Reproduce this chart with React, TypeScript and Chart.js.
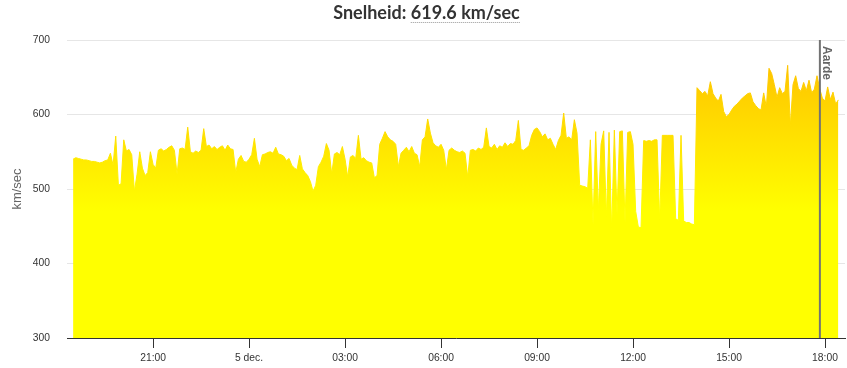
import React, { useEffect, useRef } from "react";
import { Chart, registerables } from "chart.js";

Chart.register(...registerables);

const TITLE_PREFIX = "Snelheid: ";
const TITLE_VALUE = "619.6 km/sec";
const Y_TITLE = "km/sec";

// Time grid: first sample 4 dec. 18:30, one sample every 5 minutes (hours since 4 dec. 00:00)
const START_HOUR = 18.5;
const STEP_MINUTES = 5;

// Solar wind speed (km/sec), one row per hour (12 samples of 5 min)
const SPEED: number[] = [
  540, 542, 541, 540, 539, 539, 538, 537, 537, 536, 535, 536,
  538, 539, 548, 532, 571, 505, 507, 566, 551, 553, 546, 497,
  520, 550, 528, 518, 522, 550, 533, 528, 552, 554, 551, 553,
  556, 558, 552, 520, 554, 555, 553, 583, 550, 548, 551, 549,
  552, 581, 557, 559, 554, 557, 553, 556, 558, 552, 559, 554,
  553, 522, 540, 545, 537, 536, 540, 546, 568, 540, 530, 546,
  547, 549, 550, 548, 556, 547, 546, 544, 538, 541, 532, 528,
  526, 545, 527, 522, 518, 510, 497, 505, 530, 536, 544, 561,
  552, 520, 547, 549, 546, 557, 540, 516, 543, 545, 541, 572,
  540, 542, 538, 536, 535, 515, 518, 560, 568, 577, 570, 566,
  564, 560, 530, 548, 552, 556, 550, 557, 548, 546, 530, 566,
  570, 594, 575, 562, 558, 556, 560, 552, 526, 552, 555, 552,
  550, 549, 551, 548, 516, 552, 553, 551, 555, 553, 556, 582,
  557, 555, 560, 553, 558, 556, 562, 557, 561, 560, 565, 592,
  553, 552, 555, 558, 572, 580, 582, 577, 570, 574, 566, 568,
  560, 553, 565, 572, 602, 568, 570, 566, 593, 575, 505, 504,
  503, 501, 566, 452, 577, 470, 560, 578, 462, 576, 444, 579,
  466, 577, 578, 455, 576, 577, 560, 470, 449, 448, 565, 564,
  565, 564, 566, 566, 458, 572, 572, 572, 572, 572, 460, 458,
  572, 457, 455, 455, 453, 452, 636, 632, 628, 631, 625, 644,
  628, 622, 618, 627, 604, 597, 600, 606, 611, 614, 618, 622,
  625, 628, 629, 617, 612, 608, 606, 629, 610, 662, 655, 640,
  623, 636, 628, 631, 666, 585, 640, 652, 635, 631, 643, 632,
  646, 629, 634, 652, 635, 622, 618, 637, 620, 630, 614, 619.6,
];

const X_MIN = 18.31;
const X_MAX = 42.625;
const TICK_HOURS = [21, 24, 27, 30, 33, 36, 39, 42];
const TICK_LABELS = ["21:00", "5 dec.", "03:00", "06:00", "09:00", "12:00", "15:00", "18:00"];
const Y_MIN = 300;
const Y_MAX = 700;
const Y_TICKS = [300, 400, 500, 600, 700];

const MARKER_HOUR = 41.84;
const MARKER_LABEL = "Aarde";

const LABEL_FONT = '"Liberation Sans", Arial, sans-serif';

function makeGradient(chart: any) {
  const { ctx, chartArea, scales } = chart;
  if (!chartArea || !scales || !scales.y) return "#ffff00";
  const y0 = scales.y.getPixelForValue(680);
  const y1 = scales.y.getPixelForValue(470);
  const g = ctx.createLinearGradient(0, y0, 0, y1);
  g.addColorStop(0, "#ffc000");
  g.addColorStop(1, "#ffff00");
  return g;
}

const titlePlugin = {
  id: "customTitle",
  afterDraw(chart: any) {
    const ctx = chart.ctx;
    ctx.save();
    ctx.font = 'bold 18px Lato, "Open Sans", sans-serif';
    ctx.fillStyle = "#333333";
    ctx.textBaseline = "alphabetic";
    ctx.textAlign = "left";
    const full = TITLE_PREFIX + TITLE_VALUE;
    const w = ctx.measureText(full).width;
    const pw = ctx.measureText(TITLE_PREFIX).width;
    const cx = chart.width / 2 + 3;
    const x0 = cx - w / 2;
    const by = 19;
    ctx.fillText(full, x0, by);
    ctx.strokeStyle = "#999999";
    ctx.lineWidth = 1;
    ctx.setLineDash([1, 1]);
    ctx.beginPath();
    ctx.moveTo(x0 + pw, by + 3.5);
    ctx.lineTo(x0 + w, by + 3.5);
    ctx.stroke();
    ctx.restore();
  },
};

const markerPlugin = {
  id: "marker",
  afterDatasetsDraw(chart: any) {
    const { ctx, chartArea, scales } = chart;
    const x = scales.x.getPixelForValue(MARKER_HOUR);
    ctx.save();
    ctx.strokeStyle = "#737373";
    ctx.lineWidth = 2;
    ctx.beginPath();
    ctx.moveTo(x, chartArea.top);
    ctx.lineTo(x, chartArea.bottom);
    ctx.stroke();
    ctx.translate(x + 3, chartArea.top + 6);
    ctx.rotate(Math.PI / 2);
    ctx.font = "bold 12px " + LABEL_FONT;
    ctx.fillStyle = "#666666";
    ctx.textAlign = "left";
    ctx.textBaseline = "alphabetic";
    ctx.fillText(MARKER_LABEL, 0, 0);
    ctx.restore();
  },
};

export default function App() {
  const ref = useRef<HTMLCanvasElement>(null);

  useEffect(() => {
    document.body.style.margin = "0";
    const points = SPEED.map((v, i) => ({ x: START_HOUR + (i * STEP_MINUTES) / 60, y: v }));
    const chart = new Chart(ref.current as HTMLCanvasElement, {
      type: "line",
      data: {
        datasets: [
          {
            data: points,
            fill: "start",
            borderWidth: 1,
            pointRadius: 0,
            tension: 0,
            backgroundColor: (c: any) => makeGradient(c.chart),
            borderColor: (c: any) => makeGradient(c.chart),
          },
        ],
      },
      options: {
        animation: false,
        responsive: false,
        maintainAspectRatio: false,
        layout: { padding: { left: 0, right: 2, top: 40, bottom: 0 } },
        plugins: {
          legend: { display: false },
          title: { display: false },
          tooltip: { enabled: false },
        },
        scales: {
          x: {
            type: "linear",
            min: X_MIN,
            max: X_MAX,
            afterBuildTicks: (s: any) => {
              s.ticks = TICK_HOURS.map((v) => ({ value: v }));
            },
            afterFit: (s: any) => {
              s.height = 30;
            },
            grid: {
              drawOnChartArea: false,
              drawTicks: true,
              tickLength: 10,
              tickColor: "#333333",
              color: "#333333",
            },
            border: { display: true, color: "#333333", width: 1 },
            ticks: {
              autoSkip: false,
              maxRotation: 0,
              padding: 4,
              color: "#333333",
              font: { size: 10.3, family: LABEL_FONT },
              callback: (v: any) => {
                const i = TICK_HOURS.indexOf(Number(v));
                return i >= 0 ? TICK_LABELS[i] : "";
              },
            },
          },
          y: {
            min: Y_MIN,
            max: Y_MAX,
            afterBuildTicks: (s: any) => {
              s.ticks = Y_TICKS.map((v) => ({ value: v }));
            },
            afterFit: (s: any) => {
              s.width = 67;
            },
            grid: { color: "#e6e6e6", drawTicks: false },
            border: { display: false },
            ticks: {
              padding: 17,
              color: "#333333",
              font: { size: 10.3, family: LABEL_FONT },
            },
            title: {
              display: true,
              text: Y_TITLE,
              color: "#666666",
              font: { size: 13, family: LABEL_FONT },
              padding: { top: 10, bottom: 0 },
            },
          },
        },
      },
      plugins: [titlePlugin, markerPlugin],
    } as any);
    return () => chart.destroy();
  }, []);

  return (
    <div style={{ width: 847, height: 368 }}>
      <canvas ref={ref} width={847} height={368} />
    </div>
  );
}
